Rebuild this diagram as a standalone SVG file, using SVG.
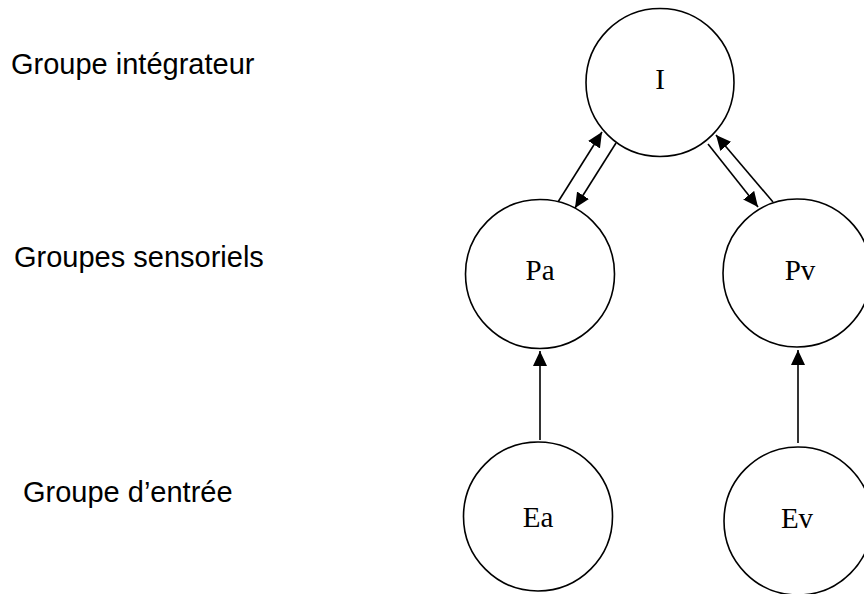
<svg xmlns="http://www.w3.org/2000/svg" width="864" height="594" viewBox="0 0 864 594">
<defs>
<style>
.node circle{fill:#fff;stroke:#000;stroke-width:1.6}
.node text{font-family:"Liberation Serif","Times New Roman",serif;font-size:29px;fill:#000;text-anchor:middle}
.lbl{font-family:"Liberation Sans",Arial,sans-serif;font-size:29px;fill:#000}
.edge{stroke:#000;stroke-width:1.6;fill:none;marker-end:url(#ah)}
</style>
<marker id="ah" markerUnits="userSpaceOnUse" markerWidth="15" markerHeight="14" viewBox="0 0 15 14" refX="15" refY="7" orient="auto">
<path d="M0,0 L15,7 L0,14 Z" fill="#000"/>
</marker>
</defs>
<rect width="864" height="594" fill="#fff"/>
<text class="lbl" x="11" y="74">Groupe intégrateur</text>
<text class="lbl" x="14" y="267">Groupes sensoriels</text>
<text class="lbl" x="23" y="502">Groupe d’entrée</text>
<g id="connectors">
<line class="edge" x1="558" y1="202" x2="602" y2="132"/>
<line class="edge" x1="616" y1="143" x2="575" y2="208"/>
<line class="edge" x1="708" y1="144" x2="758" y2="207"/>
<line class="edge" x1="773" y1="202" x2="716" y2="135"/>
<line class="edge" x1="540" y1="440" x2="540" y2="351"/>
<line class="edge" x1="798" y1="443" x2="798" y2="350"/>
</g>
<g id="node-I" class="node"><circle cx="660" cy="82.5" r="74"/><text x="660" y="89">I</text></g>
<g id="node-Pa" class="node"><circle cx="540" cy="274" r="74.5"/><text x="540" y="280">Pa</text></g>
<g id="node-Pv" class="node"><circle cx="797" cy="273" r="74"/><text x="800" y="280">Pv</text></g>
<g id="node-Ea" class="node"><circle cx="538" cy="516.5" r="74.5"/><text x="538" y="527">Ea</text></g>
<g id="node-Ev" class="node"><circle cx="798" cy="521" r="74"/><text x="797" y="528">Ev</text></g>
</svg>
